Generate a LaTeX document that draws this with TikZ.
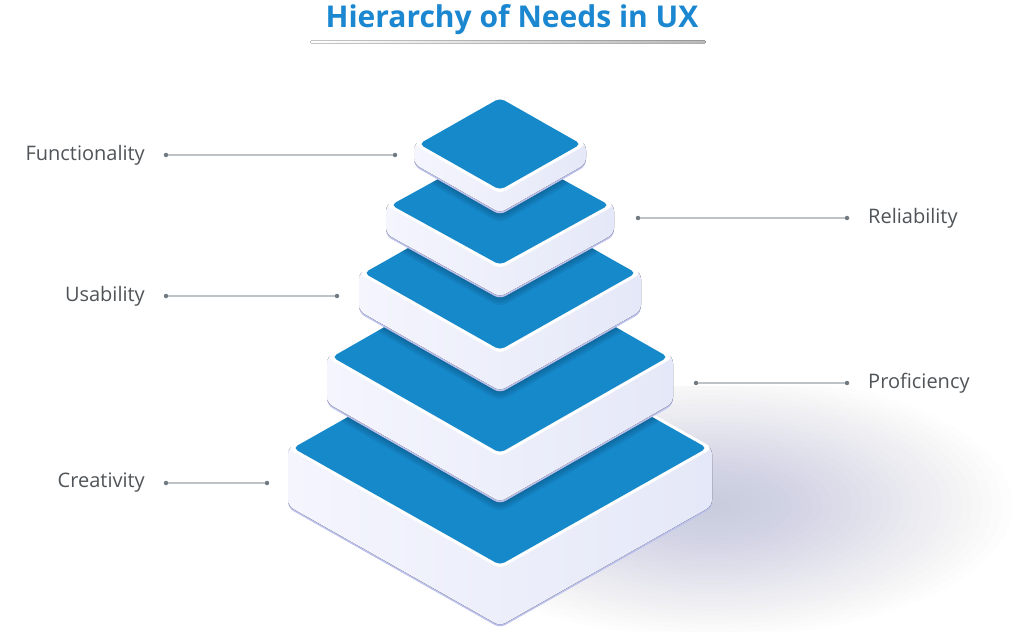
\documentclass[tikz,border=0pt]{standalone}
\usepackage{fontspec}
\setmainfont{Open Sans}
\usepackage{xcolor}

\definecolor{uxblue}{HTML}{1689CB}
\definecolor{titleblue}{HTML}{1A87D0}
\definecolor{tagtext}{HTML}{505458}
\definecolor{conngray}{HTML}{BCC2C6}
\definecolor{dotgray}{HTML}{707A80}
\definecolor{sideL}{HTML}{F4F5FD}
\definecolor{sideR}{HTML}{E5E8F8}
\definecolor{edgelav}{HTML}{BCC1EE}
\definecolor{floorgray}{HTML}{9AA3C4}

\tikzset{
	tag/.style={font=\fontsize{20}{24}\selectfont, text=tagtext, inner sep=0pt},
	ldot/.style={circle, fill=dotgray, inner sep=0pt, minimum size=4.5pt},
	conn/.style={conngray, line width=1.1pt}
}

\begin{document}
\begin{tikzpicture}[x=1pt, y=-1pt]
				\useasboundingbox (0,0) rectangle (1024,631);
				\fill[white] (0,0) rectangle (1024,631);
				
				% title
				\node[font=\bfseries\fontsize{30}{34}\selectfont, text=titleblue, anchor=base, inner sep=0pt] (title) at (512,28) {Hierarchy of Needs in UX};
				\fill[left color=white, right color=gray!55, rounded corners=1.5] (310,40.5) rectangle (706,43.5);
				
				% floor shadow (right)
				\begin{scope}
					\clip (0,386) rectangle (1024,631);
					\foreach \r in {1,...,30}{
						\fill[floorgray, opacity=0.018] (712,505) ellipse ({10*\r} and {4.4*\r});
					}
				\end{scope}
				
				% tiers, bottom to top
				\foreach \cy/\w/\h/\t [remember=\cy as \pcy (initially 0), remember=\w as \pw (initially 0), remember=\h as \ph (initially 0)] in
				{448/207/117/58, 357/168/96/46, 273/136/77/38, 205/109/60/29, 144/81/46/20}{
					\pgfmathsetmacro\W{\w+5}
					\pgfmathsetmacro\H{\h+3}
					% shadow on the face below
					\ifnum\pw>0
					\begin{scope}
						\clip[rounded corners=5] (500-\pw,\pcy) -- (500,\pcy-\ph) -- (500+\pw,\pcy) -- (500,\pcy+\ph) -- cycle;
						\foreach \d in {18,14,10,6,3}{
							\fill[black, opacity=0.06, rounded corners=8] (500-\W-\d,\cy+\t) -- (500,\cy+\t-\H-0.58*\d) -- (500+\W+\d,\cy+\t) -- (500,\cy+\t+\H+0.58*\d) -- cycle;
						}
					\end{scope}
					\fi
					% lavender bottom edge
					\fill[edgelav, rounded corners=6] (500-\W,\cy+2) -- (500,\cy+\H+2) -- (500+\W,\cy+2) -- (500+\W,\cy+\t+2) -- (500,\cy+\H+\t+2) -- (500-\W,\cy+\t+2) -- cycle;
					% sides
					\fill[left color=sideL, right color=sideR, rounded corners=6] (500-\W,\cy) -- (500,\cy-\H) -- (500+\W,\cy) -- (500+\W,\cy+\t) -- (500,\cy+\H+\t) -- (500-\W,\cy+\t) -- cycle;
					% top rim
					\filldraw[white, line width=1.2pt, rounded corners=6] (500-\W,\cy) -- (500,\cy-\H) -- (500+\W,\cy) -- (500,\cy+\H) -- cycle;
					% blue face
					\fill[uxblue, rounded corners=5] (500-\w,\cy) -- (500,\cy-\h) -- (500+\w,\cy) -- (500,\cy+\h) -- cycle;
				}
				
				% labels (left)
				\foreach \n/\txt/\y/\xb in
				{func/Functionality/155/395, usab/Usability/296/337, crea/Creativity/483/267}{
					\node[tag, anchor=east] (\n) at (145,\y) {\txt};
					\node[ldot] (\n-a) at (166,\y) {};
					\node[ldot] (\n-b) at (\xb,\y) {};
					\draw[conn] (\n-a) -- (\n-b);
				}
				
				% labels (right)
				\foreach \n/\txt/\y/\xa in
				{reli/Reliability/218/638, prof/Proficiency/383/696}{
					\node[tag, anchor=west] (\n) at (868,\y) {\txt};
					\node[ldot] (\n-a) at (\xa,\y) {};
					\node[ldot] (\n-b) at (847,\y) {};
					\draw[conn] (\n-a) -- (\n-b);
				}
			\end{tikzpicture}
\end{document}
